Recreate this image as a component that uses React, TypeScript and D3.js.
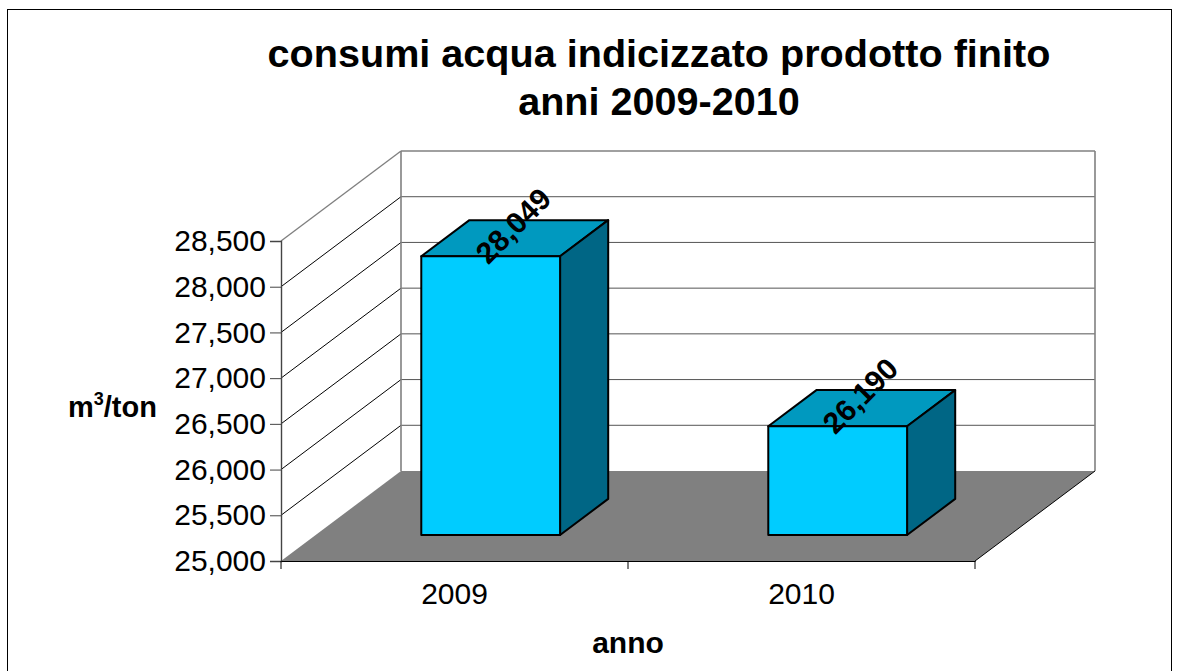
import React, { useEffect, useRef } from "react";
import * as d3 from "d3";

const years = ["2009", "2010"];
const consumi = [28.049, 26.19];
const yTicks = [25, 25.5, 26, 26.5, 27, 27.5, 28, 28.5];
const titleLines = ["consumi acqua indicizzato prodotto finito", "anni 2009-2010"];

const FONT = "'Liberation Sans', Arial, sans-serif";

export default function App() {
  const ref = useRef<SVGSVGElement>(null);

  useEffect(() => {
    const svg = d3.select(ref.current);
    svg.selectAll("*").remove();

    const left = 281, right = 975, bottom = 561, top = 241;
    // offset of the back wall from the front plane
    const depthX = 120, depthY = -90;
    // bars sit between these fractions of the depth
    const barFront = 0.289, barBack = 0.69;

    const it = d3.formatLocale({ decimal: ",", thousands: ".", grouping: [3], currency: ["", "€"] });
    const fmt = it.format(".3f");

    const y = d3.scaleLinear().domain([25, 28.5]).range([bottom, top]);
    const xAxis = d3.scaleBand<string>().domain(years).range([left, right]);
    const xBar = d3.scaleBand<string>().domain(years)
      .range([left + depthX * barFront + 1.5, right + depthX * barFront + 1.5])
      .paddingInner(0.6).paddingOuter(0.3);

    const poly = (pts: number[][]) => pts.map(p => p.join(",")).join(" ");

    // frame
    svg.append("rect")
      .attr("x", 7.5).attr("y", 9.5).attr("width", 1164).attr("height", 680)
      .attr("fill", "#fff").attr("stroke", "#000").attr("stroke-width", 1);

    // walls
    svg.append("polygon")
      .attr("points", poly([[left, bottom], [left + depthX, bottom + depthY], [left + depthX, top + depthY], [left, top]]))
      .attr("fill", "#fff");

    yTicks.forEach((t, i) => {
      const last = i === yTicks.length - 1;
      if (i > 0) {
        svg.append("line")
          .attr("x1", left).attr("y1", y(t))
          .attr("x2", left + depthX).attr("y2", y(t) + depthY)
          .attr("stroke", last ? "#808080" : "#000")
          .attr("stroke-width", last ? 1.4 : 1);
        svg.append("line")
          .attr("x1", left + depthX).attr("y1", y(t) + depthY)
          .attr("x2", right + depthX).attr("y2", y(t) + depthY)
          .attr("stroke", last ? "#808080" : "#555")
          .attr("stroke-width", last ? 1.4 : 1);
      }
    });

    // back wall edges
    svg.append("line")
      .attr("x1", left + depthX).attr("y1", top + depthY)
      .attr("x2", left + depthX).attr("y2", bottom + depthY)
      .attr("stroke", "#808080").attr("stroke-width", 1.6);
    svg.append("line")
      .attr("x1", right + depthX).attr("y1", top + depthY)
      .attr("x2", right + depthX).attr("y2", bottom + depthY)
      .attr("stroke", "#808080").attr("stroke-width", 1.6);

    // floor
    svg.append("polygon")
      .attr("points", poly([[left, bottom], [left + depthX, bottom + depthY], [right + depthX, bottom + depthY], [right, bottom]]))
      .attr("fill", "#808080");
    svg.append("line")
      .attr("x1", right).attr("y1", bottom)
      .attr("x2", right + depthX).attr("y2", bottom + depthY)
      .attr("stroke", "#000");

    // bars
    const w = xBar.bandwidth();
    const backDx = depthX * (barBack - barFront);
    const backDy = depthY * (barBack - barFront);
    const frontDy = depthY * barFront;

    years.forEach((yr, i) => {
      const x0 = xBar(yr) as number;
      const yBase = bottom + frontDy;
      const yTop = y(consumi[i]) + frontDy;
      const g = svg.append("g")
        .attr("stroke", "#000").attr("stroke-width", 2).attr("stroke-linejoin", "round");
      g.append("polygon")
        .attr("points", poly([[x0, yTop], [x0 + backDx, yTop + backDy], [x0 + w + backDx, yTop + backDy], [x0 + w, yTop]]))
        .attr("fill", "#0099BF");
      g.append("polygon")
        .attr("points", poly([[x0 + w, yTop], [x0 + w + backDx, yTop + backDy], [x0 + w + backDx, yBase + backDy], [x0 + w, yBase]]))
        .attr("fill", "#006685");
      g.append("rect")
        .attr("x", x0).attr("y", yTop).attr("width", w).attr("height", yBase - yTop)
        .attr("fill", "#00CCFF");

      svg.append("text")
        .attr("transform", `translate(${x0 + w / 2 + backDx / 2 + 7},${yTop + backDy / 2 - 4}) rotate(-45)`)
        .attr("text-anchor", "middle")
        .attr("dy", "-0.05em")
        .attr("font-family", FONT).attr("font-weight", "bold").attr("font-size", 30)
        .text(fmt(consumi[i]));
    });

    // axes
    const gy = svg.append("g").attr("transform", `translate(${left},0)`)
      .call(d3.axisLeft(y).tickValues(yTicks).tickFormat(d => fmt(d as number)).tickSize(11).tickPadding(4));
    const gx = svg.append("g").attr("transform", `translate(0,${bottom})`)
      .call(d3.axisBottom(xAxis).tickSize(0).tickPadding(22));
    [left, left + xAxis.step(), right].forEach(t => {
      gx.append("line").attr("x1", t).attr("x2", t).attr("y1", 0).attr("y2", 8).attr("stroke", "#000");
    });
    gy.select(".domain").attr("stroke", "#444").attr("stroke-width", 1.4);
    gy.selectAll(".tick line").attr("stroke", "#444");
    gx.select(".domain").attr("stroke", "#000");
    [gy, gx].forEach(a => a.selectAll("text")
      .attr("font-family", FONT).attr("font-size", 30).attr("fill", "#000"));

    // title
    titleLines.forEach((line, i) => {
      svg.append("text")
        .attr("x", 659).attr("y", 67 + i * 48)
        .attr("text-anchor", "middle")
        .attr("font-family", FONT).attr("font-weight", "bold").attr("font-size", 39.6)
        .text(line);
    });

    // axis titles
    svg.append("text")
      .attr("x", 628).attr("y", 653)
      .attr("text-anchor", "middle")
      .attr("font-family", FONT).attr("font-weight", "bold").attr("font-size", 30)
      .text("anno");

    const yLab = svg.append("text")
      .attr("x", 68).attr("y", 417)
      .attr("font-family", FONT).attr("font-weight", "bold").attr("font-size", 29);
    yLab.append("tspan").text("m");
    yLab.append("tspan").attr("dy", -12).attr("font-size", 18).text("3");
    yLab.append("tspan").attr("dy", 12).text("/ton");
  }, []);

  return (
    <svg
      ref={ref}
      width={1182}
      height={671}
      style={{ position: "absolute", left: 0, top: 0, background: "#fff" }}
    />
  );
}
